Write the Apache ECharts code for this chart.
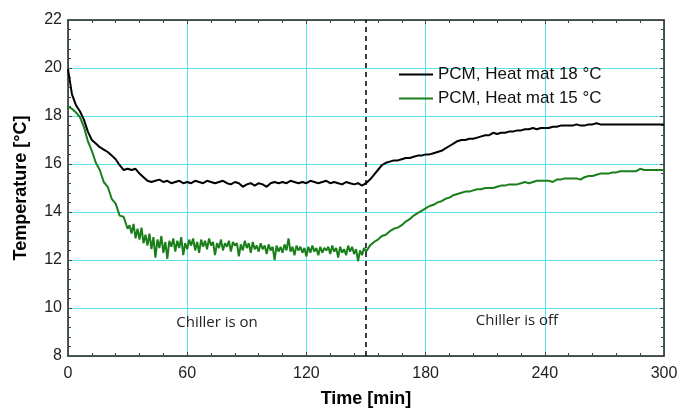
<!DOCTYPE html>
<html style="height: 100%">

<head>
    <meta charset="utf-8">
</head>

<body style="height: 100%; margin: 0; background: #fff">
    <div id="container" style="width: 683px; height: 408px"></div>
    <script type="text/javascript" src="https://cdn.jsdelivr.net/npm/echarts@6/dist/echarts.min.js"></script>
    <script type="text/javascript">

        // time [min] for the 18 °C run, one sample every 2 min
        var times18 = [0, 2, 4, 6, 8, 10, 12, 14, 16, 18, 20, 22, 24, 26, 28, 30, 32, 34, 36, 38,
            40, 42, 44, 46, 48, 50, 52, 54, 56, 58, 60, 62, 64, 66, 68, 70, 72, 74, 76, 78,
            80, 82, 84, 86, 88, 90, 92, 94, 96, 98, 100, 102, 104, 106, 108, 110, 112, 114, 116, 118,
            120, 122, 124, 126, 128, 130, 132, 134, 136, 138, 140, 142, 144, 146, 148, 150, 152, 154, 156, 158,
            160, 162, 164, 166, 168, 170, 172, 174, 176, 178, 180, 182, 184, 186, 188, 190, 192, 194, 196, 198,
            200, 202, 204, 206, 208, 210, 212, 214, 216, 218, 220, 222, 224, 226, 228, 230, 232, 234, 236, 238,
            240, 242, 244, 246, 248, 250, 252, 254, 256, 258, 260, 262, 264, 266, 268, 270, 272, 274, 276, 278,
            280, 282, 284, 286, 288, 290, 292, 294, 296, 298, 300];

        // PCM, heat mat 18 °C
        var mat18 = [19.95, 18.9, 18.45, 18.2, 17.85, 17.35, 17.0, 16.85, 16.7, 16.6, 16.5, 16.35, 16.2, 15.95, 15.75, 15.8, 15.75, 15.8, 15.6, 15.45,
            15.3, 15.25, 15.3, 15.35, 15.25, 15.3, 15.2, 15.25, 15.3, 15.2, 15.25, 15.2, 15.3, 15.25, 15.2, 15.3, 15.25, 15.2, 15.25, 15.3,
            15.2, 15.15, 15.25, 15.2, 15.05, 15.15, 15.2, 15.1, 15.2, 15.15, 15.05, 15.2, 15.25, 15.2, 15.25, 15.2, 15.3, 15.25, 15.2, 15.25,
            15.2, 15.3, 15.25, 15.2, 15.25, 15.3, 15.2, 15.25, 15.2, 15.15, 15.25, 15.2, 15.15, 15.2, 15.1, 15.2, 15.35, 15.55, 15.75, 15.95,
            16.05, 16.1, 16.15, 16.15, 16.2, 16.25, 16.25, 16.3, 16.35, 16.35, 16.4, 16.4, 16.45, 16.5, 16.55, 16.65, 16.75, 16.85, 16.95, 17.0,
            17.0, 17.05, 17.05, 17.1, 17.15, 17.2, 17.2, 17.3, 17.25, 17.3, 17.3, 17.35, 17.35, 17.4, 17.4, 17.45, 17.45, 17.5, 17.45, 17.5,
            17.5, 17.5, 17.55, 17.55, 17.6, 17.6, 17.6, 17.6, 17.65, 17.6, 17.6, 17.65, 17.65, 17.7, 17.65, 17.65, 17.65, 17.65, 17.65, 17.65,
            17.65, 17.65, 17.65, 17.65, 17.65, 17.65, 17.65, 17.65, 17.65, 17.65, 17.65];

        // time [min] for the 15 °C run: 1 min samples while it is noisy
        var times15 = [0, 2, 4, 6, 8, 10, 12, 14, 16, 18, 20, 22, 24, 26, 28, 30,
            31, 32, 33, 34, 35, 36, 37, 38, 39, 40, 41, 42, 43, 44, 45, 46, 47, 48, 49, 50,
            51, 52, 53, 54, 55, 56, 57, 58, 59, 60, 61, 62, 63, 64, 65, 66, 67, 68, 69, 70,
            71, 72, 73, 74, 75, 76, 77, 78, 79, 80, 81, 82, 83, 84, 85, 86, 87, 88, 89, 90,
            91, 92, 93, 94, 95, 96, 97, 98, 99, 100, 101, 102, 103, 104, 105, 106, 107, 108, 109, 110,
            111, 112, 113, 114, 115, 116, 117, 118, 119, 120, 121, 122, 123, 124, 125, 126, 127, 128, 129, 130,
            131, 132, 133, 134, 135, 136, 137, 138, 139, 140, 141, 142, 143, 144, 145, 146, 147, 148, 149, 150,
            152, 154, 156, 158, 160, 162, 164, 166, 168, 170, 172, 174, 176, 178, 180, 182, 184, 186, 188, 190,
            192, 194, 196, 198, 200, 202, 204, 206, 208, 210, 212, 214, 216, 218, 220, 222, 224, 226, 228, 230,
            232, 234, 236, 238, 240, 242, 244, 246, 248, 250, 252, 254, 256, 258, 260, 262, 264, 266, 268, 270,
            272, 274, 276, 278, 280, 282, 284, 286, 288, 290, 292, 294, 296, 298, 300];

        // PCM, heat mat 15 °C
        var mat15 = [18.4, 18.3, 18.15, 17.95, 17.55, 16.95, 16.55, 16.05, 15.75, 15.25, 15.05, 14.55, 14.35, 13.85, 13.8, 13.3,
            13.45, 13.1, 13.5, 12.9, 13.3, 12.85, 13.35, 12.7, 13.05, 12.6, 13.1, 12.45, 12.95, 12.1, 12.85, 12.5, 13.0, 12.3, 12.75, 12.05,
            12.8, 12.55, 12.9, 12.35, 12.8, 12.5, 12.95, 12.2, 12.7, 12.45, 12.85, 12.6, 12.9, 12.4, 12.75, 12.3, 12.85, 12.55, 12.8, 12.45,
            12.9, 12.6, 12.75, 12.2, 12.7, 12.5, 12.85, 12.4, 12.7, 12.55, 12.8, 12.35, 12.75, 12.6, 12.7, 12.15, 12.65, 12.4, 12.8, 12.5,
            12.7, 12.3, 12.75, 12.45, 12.6, 12.35, 12.7, 12.45, 12.6, 12.25, 12.65, 12.4, 12.55, 12.0, 12.6, 12.35, 12.55, 12.3, 12.65, 12.4,
            12.9, 12.35, 12.55, 12.2, 12.6, 12.4, 12.55, 12.3, 12.5, 12.15, 12.55, 12.3, 12.6, 12.35, 12.5, 12.2, 12.55, 12.3, 12.5, 12.4,
            12.55, 12.25, 12.6, 12.35, 12.5, 12.1, 12.55, 12.3, 12.45, 12.2, 12.6, 12.35, 12.55, 12.25, 12.45, 11.95, 12.4, 12.2, 12.5, 12.35,
            12.6, 12.75, 12.85, 13.0, 13.05, 13.2, 13.3, 13.35, 13.45, 13.6, 13.7, 13.85, 13.95, 14.05, 14.15, 14.25, 14.3, 14.4, 14.45, 14.55,
            14.6, 14.7, 14.75, 14.8, 14.85, 14.85, 14.9, 14.95, 14.95, 15.0, 15.0, 15.0, 15.05, 15.1, 15.1, 15.15, 15.15, 15.15, 15.2, 15.25,
            15.2, 15.25, 15.3, 15.3, 15.3, 15.3, 15.25, 15.35, 15.35, 15.4, 15.4, 15.4, 15.4, 15.35, 15.45, 15.5, 15.5, 15.55, 15.6, 15.6,
            15.6, 15.65, 15.65, 15.7, 15.7, 15.7, 15.7, 15.7, 15.8, 15.75, 15.75, 15.75, 15.75, 15.75, 15.75];

        var switchTime = 150;
        var notes = [
            { text: 'Chiller is on', x: 75, y: 9.4 },
            { text: 'Chiller is off', x: 226, y: 9.45 }
        ];

        function pairs(ts, vals) {
            var out = [];
            for (var i = 0; i < vals.length; i++) {
                out.push([ts[i], vals[i]]);
            }
            return out;
        }

        var dom = document.getElementById("container");
        var myChart = echarts.init(dom, null, { renderer: 'canvas' });

        var labelFont = { color: '#222', fontSize: 16, fontFamily: 'Liberation Sans, Arial' };
        var gridColor = '#55e4ee';
        var tickStyle = { inside: true, length: 4, lineStyle: { color: '#444' } };
        var minorStyle = { show: true, splitNumber: 5, length: 3, lineStyle: { color: '#444' } };

        var option = {
            animation: false,
            backgroundColor: '#fff',
            grid: { left: 68, right: 19, top: 20, bottom: 52, containLabel: false, outerBoundsMode: 'none' },
            legend: {
                left: 393,
                top: 61,
                orient: 'vertical',
                itemWidth: 34,
                itemHeight: 14,
                itemGap: 7,
                itemStyle: { opacity: 0 },
                textStyle: { color: '#111', fontSize: 17, fontFamily: 'Liberation Sans, Arial' },
                data: ['PCM, Heat mat 18 °C', 'PCM, Heat mat 15 °C']
            },
            xAxis: [{
                type: 'value',
                min: 0,
                max: 300,
                interval: 60,
                name: 'Time [min]',
                nameLocation: 'middle',
                nameGap: 34,
                nameTextStyle: { color: '#000', fontSize: 18, fontWeight: 'bold', fontFamily: 'Liberation Sans, Arial' },
                axisLine: { lineStyle: { color: '#222', width: 1.5 } },
                axisTick: tickStyle,
                minorTick: minorStyle,
                axisLabel: Object.assign({ margin: 10 }, labelFont),
                splitLine: { show: true, lineStyle: { color: gridColor, width: 1 } }
            }, {
                type: 'value',
                position: 'top',
                min: 0,
                max: 300,
                interval: 60,
                axisLine: { show: true, onZero: false, lineStyle: { color: '#222', width: 1.5 } },
                axisTick: tickStyle,
                minorTick: minorStyle,
                axisLabel: { show: false },
                splitLine: { show: false }
            }],
            yAxis: [{
                type: 'value',
                min: 8,
                max: 22,
                interval: 2,
                name: 'Temperature [°C]',
                nameLocation: 'middle',
                nameGap: 38,
                nameTextStyle: { color: '#000', fontSize: 18, fontWeight: 'bold', fontFamily: 'Liberation Sans, Arial' },
                axisLine: { show: true, lineStyle: { color: '#222', width: 1.5 } },
                axisTick: tickStyle,
                minorTick: minorStyle,
                axisLabel: Object.assign({ margin: 6 }, labelFont),
                splitLine: { show: true, lineStyle: { color: gridColor, width: 1 } }
            }, {
                type: 'value',
                position: 'right',
                min: 8,
                max: 22,
                interval: 2,
                axisLine: { show: true, onZero: false, lineStyle: { color: '#222', width: 1.5 } },
                axisTick: tickStyle,
                minorTick: minorStyle,
                axisLabel: { show: false },
                splitLine: { show: false }
            }],
            series: [{
                name: 'PCM, Heat mat 18 °C',
                type: 'line',
                data: pairs(times18, mat18),
                symbol: 'none',
                lineStyle: { color: '#000', width: 2 },
                itemStyle: { color: '#000' },
                z: 3,
                markLine: {
                    silent: true,
                    symbol: 'none',
                    label: { show: false },
                    lineStyle: { color: '#000', type: [5, 4], width: 1.5 },
                    data: [{ xAxis: switchTime }]
                },
                markPoint: {
                    symbol: 'circle',
                    symbolSize: 0,
                    label: {
                        show: true,
                        position: 'inside',
                        formatter: function (p) { return p.name; },
                        color: '#222',
                        fontSize: 15,
                        fontFamily: 'Open Sans'
                    },
                    data: notes.map(function (n) { return { name: n.text, coord: [n.x, n.y] }; })
                }
            }, {
                name: 'PCM, Heat mat 15 °C',
                type: 'line',
                data: pairs(times15, mat15),
                symbol: 'none',
                lineStyle: { color: '#1a7f1a', width: 2 },
                itemStyle: { color: '#1a7f1a' },
                z: 2
            }]
        };

        myChart.setOption(option);
    </script>
</body>

</html>
